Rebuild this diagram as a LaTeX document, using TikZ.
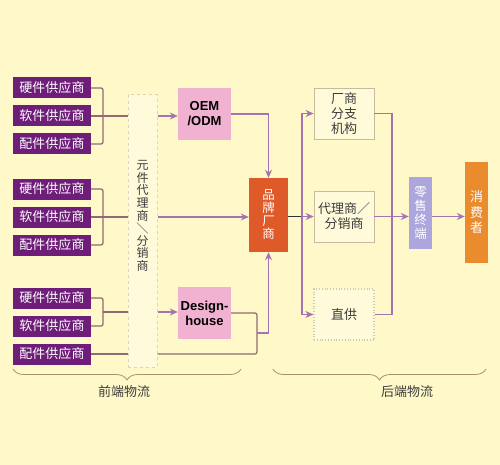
\documentclass[tikz,border=0pt]{standalone}
\usepackage{fontspec}
\setmainfont{Liberation Sans}
\newfontfamily\cjk{Noto Sans CJK SC}
\usetikzlibrary{arrows.meta,decorations.pathreplacing}

\definecolor{bgyellow}{RGB}{255,248,200}
\definecolor{boxfill}{RGB}{255,251,218}
\definecolor{supplierpurple}{RGB}{110,30,120}
\definecolor{designpink}{RGB}{240,178,208}
\definecolor{brandred}{RGB}{222,90,40}
\definecolor{retaillilac}{RGB}{172,166,220}
\definecolor{consumerorange}{RGB}{234,140,45}
\definecolor{linkpurple}{RGB}{165,115,175}
\definecolor{bracketbrown}{RGB}{145,105,115}
\definecolor{boxtan}{RGB}{200,186,158}
\definecolor{columntan}{RGB}{228,208,188}
\definecolor{bracegray}{RGB}{165,145,110}
\definecolor{textgray}{RGB}{60,60,60}

\begin{document}
\begin{tikzpicture}
 [
  x=1pt, y=-1pt,
  >={Stealth[length=8pt,width=7pt]},
  supplier/.style = {fill = supplierpurple, text = white, minimum width = 78pt, minimum height = 21pt, inner sep = 0pt, font = \cjk\fontsize{13}{14}\selectfont},
  design/.style   = {fill = designpink, minimum width = 53pt, minimum height = 52pt, inner sep = 0pt, align = center, font = \bfseries\fontsize{13}{15}\selectfont},
  channel/.style  = {draw = boxtan, line width = .8pt, fill = boxfill, minimum width = 60pt, minimum height = 51pt, inner sep = 0pt, align = center, text = textgray, font = \cjk\fontsize{13}{15}\selectfont},
  pillar/.style   = {text = white, inner sep = 0pt, align = center},
  link/.style     = {draw = linkpurple, line width = 1.2pt},
  flow/.style     = {link, ->, color = linkpurple},
  bracket/.style  = {draw = bracketbrown, line width = 1.2pt, rounded corners = 2pt},
  brace/.style    = {draw = bracegray, line width = .8pt, decorate, decoration = {brace, mirror, amplitude = 11pt}},
 ]

 \fill[bgyellow] (0,0) rectangle (500,465);
 \useasboundingbox (0,0) rectangle (500,465);

 % suppliers
 \node (h1) at (52,88)  [supplier] {硬件供应商};
 \node (s1) at (52,116) [supplier] {软件供应商};
 \node (p1) at (52,144) [supplier] {配件供应商};
 \node (h2) at (52,189) [supplier] {硬件供应商};
 \node (s2) at (52,217) [supplier] {软件供应商};
 \node (p2) at (52,245) [supplier] {配件供应商};
 \node (h3) at (52,298) [supplier] {硬件供应商};
 \node (s3) at (52,326) [supplier] {软件供应商};
 \node (p3) at (52,354) [supplier] {配件供应商};

 % the distributor column
 \node (col) at (142.5,231) [draw = columntan, dashed, line width = 1pt, fill = boxfill, minimum width = 29pt, minimum height = 272pt]{};
 \node (colText) at (142.5,216) [align = center, text = textgray, font = \cjk\fontsize{12}{12.6}\selectfont]
  {元\\件\\代\\理\\商\\\rotatebox[origin=c]{90}{／}\\分\\销\\商};

 \node (oem) at (204.5,114) [design] {OEM\\/ODM};
 \node (dh)  at (204.5,313) [design] {Design-\\house};

 \node (brand) at (268.5,215) [pillar, fill = brandred, minimum width = 39pt, minimum height = 74pt, font = \cjk\fontsize{12.5}{13}\selectfont] {品\\牌\\厂\\商};

 \node (branch) at (344,113.5) [channel] {厂商\\分支\\机构};
 \node (agent)  at (344,216.5) [channel] {代理商／\\分销商};
 \node (direct) at (344,314.5) [channel, draw = boxtan!80, dotted, line width = 1.2pt] {直供};

 \node (retail)   at (420.5,213)   [pillar, fill = retaillilac, minimum width = 23pt, minimum height = 72pt, font = \cjk\fontsize{12.5}{14}\selectfont] {零\\售\\终\\端};
 \node (consumer) at (476.5,212.5) [pillar, fill = consumerorange, minimum width = 23pt, minimum height = 101pt, font = \cjk\fontsize{13}{15.5}\selectfont] {消\\费\\者};

 \coordinate (j1) at (103,116);
 \coordinate (j2) at (103,217);
 \coordinate (j3) at (103,312);
 \coordinate (k)  at (257,333);
 \coordinate (fork)  at (302,216.5);
 \coordinate (merge) at (392,216.5);

 % front end
 \draw[bracket] (h1.east) -| (j1) |- (p1.east);
 \draw[bracket] (s1.east) -- (col.west |- s1.east);
 \draw[flow] (col.east |- s1.east) -- (oem.west |- s1.east);

 \draw[bracket] (h2.east) -| (j2) |- (p2.east);
 \draw[bracket] (s2.east) -- (col.west |- s2.east);
 \draw[flow] (col.east |- s2.east) -- (brand.west |- s2.east);

 \draw[bracket] (h3.east) -| (j3) |- (s3.east);
 \draw[bracket] (j3) -- (col.west |- j3);
 \draw[flow] (col.east |- j3) -- (dh.west |- j3);

 \draw[bracket] (p3.east) -- (col.west |- p3.east);
 \draw[bracket] (dh.east) -| (k) |- (col.east |- p3.east);
 \draw[flow] (k) -| (brand.south);
 \draw[flow] (oem.east) -| (brand.north);

 % back end
 \draw[flow] (fork) -- (agent.west);
 \draw[line width = 1.2pt, draw = black!80] (brand.east |- fork) -- (fork);
 \draw[flow] (fork) |- (branch.west);
 \draw[flow] (fork) |- (direct.west);
 \draw[link] (branch.east) -| (merge) |- (direct.east);
 \draw[flow] (agent.east) -- (retail.west |- agent.east);
 \draw[flow] (retail.east |- agent.east) -- (consumer.west |- agent.east);

 % braces
 \draw[brace] (13,369) -- (241,369);
 \draw[brace] (273,369) -- (486,369);
 \node (front) at (124,392) [text = textgray, font = \cjk\fontsize{13}{15}\selectfont] {前端物流};
 \node (back)  at (407,392) [text = textgray, font = \cjk\fontsize{13}{15}\selectfont] {后端物流};
\end{tikzpicture}
\end{document}
